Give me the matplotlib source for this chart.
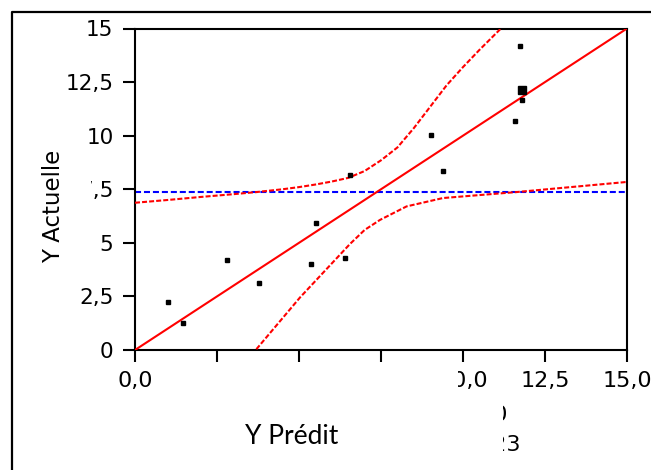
import matplotlib
matplotlib.use("Agg")
import matplotlib.pyplot as plt
from matplotlib.patches import Rectangle
from matplotlib.lines import Line2D

plt.rcParams["font.family"] = ["DejaVu Sans"]

# ---- data ----
pred_x = [1.01, 1.46, 2.80, 3.78, 5.37, 5.52, 6.40, 6.55, 9.02, 9.39, 11.59, 11.74, 11.80]
actual_y = [2.24, 1.26, 4.20, 3.13, 4.01, 5.93, 4.29, 8.17, 10.03, 8.35, 10.69, 14.19, 11.67]
big_x = [11.80]
big_y = [12.13]

fit_x = [0.0, 15.0]
fit_y = [0.0, 15.0]
mean_y = 7.35

upper_x = [0.0, 1.0, 2.0, 3.0, 3.71, 4.5, 5.0, 5.5, 6.0, 6.5, 7.0, 7.5, 8.0, 8.5,
           9.0, 9.5, 10.0, 10.5, 11.13, 11.6]
upper_y = [6.87, 7.0, 7.14, 7.27, 7.37, 7.5, 7.6, 7.72, 7.86, 8.03, 8.35, 8.85, 9.45, 10.35,
           11.35, 12.35, 13.2, 14.0, 14.96, 15.7]
lower_x = [3.55, 3.68, 5.03, 6.55, 7.0, 7.47, 8.28, 9.39, 11.64, 14.99]
lower_y = [-0.2, 0.0, 2.45, 4.94, 5.6, 6.07, 6.70, 7.09, 7.37, 7.84]

ticks = [0, 2.5, 5, 7.5, 10, 12.5, 15]
xticklabels = ["0,0", "2,5", "5,0", "7,5", "10,0", "12,5", "15,0"]
yticklabels = ["0", "2,5", "5", "7,5", "10", "12,5", "15"]

W, H = 651, 470
fig = plt.figure(figsize=(W / 100, H / 100), dpi=100)
ax = fig.add_axes([135 / W, 1 - 350 / H, (627 - 135) / W, (350 - 28.5) / H])

ax.plot(fit_x, fit_y, color="#ff0000", lw=1.5, zorder=3)
ax.plot(upper_x, upper_y, color="#ff0000", lw=1.5, ls=(0, (2.4, 1.0)), zorder=3)
ax.plot(lower_x, lower_y, color="#ff0000", lw=1.5, ls=(0, (2.4, 1.0)), zorder=3)
ax.axhline(mean_y, color="#0000ff", lw=1.5, ls=(0, (2.9, 1.4)), zorder=2)
ax.plot(pred_x, actual_y, ls="none", marker="s", ms=3.0, color="black", zorder=4)
ax.plot(big_x, big_y, ls="none", marker="s", ms=6.0, color="black", zorder=4)

ax.set_xlim(0, 15)
ax.set_ylim(0, 15)
ax.set_xticks(ticks)
ax.set_xticklabels(xticklabels)
ax.set_yticks(ticks)
ax.set_yticklabels(yticklabels)
for s in ax.spines.values():
    s.set_linewidth(1.5)
    s.set_color("black")
ax.tick_params(direction="out", length=8.5, width=1.5, color="black", labelcolor="black")
ax.tick_params(axis="x", pad=6.5, labelsize=16)
ax.tick_params(axis="y", pad=7, labelsize=15.5)

# outer frame
fig.lines.append(Line2D([12 / W, 12 / W, 1.0], [0.0, 1 - 12 / H, 1 - 12 / H],
                        transform=fig.transFigure, color="black", lw=1.6))

# text fragments partly hidden below
fig.text(508 / W, 1 - 415 / H, "0,0", fontsize=16, ha="right", va="center")
fig.text(521 / W, 1 - 445 / H, "0,23", fontsize=16, ha="right", va="center")

# white boxes occluding parts of the labels
for (x0, y0, x1, y1) in [(201, 363, 458, 400), (201, 400, 503, 465), (70, 176, 91, 203)]:
    fig.patches.append(Rectangle((x0 / W, 1 - y1 / H), (x1 - x0) / W, (y1 - y0) / H,
                                 transform=fig.transFigure, facecolor="white",
                                 edgecolor="none", zorder=5))

fig.text(54 / W, 1 - 206 / H, "Y Actuelle", rotation=90, fontsize=16.5,
         ha="center", va="center", zorder=10)
fig.text(292 / W, 1 - 437 / H, "Y Prédit", fontsize=19, family="Lato",
         ha="center", va="center", zorder=10)

fig.savefig("out.png", dpi=100)
